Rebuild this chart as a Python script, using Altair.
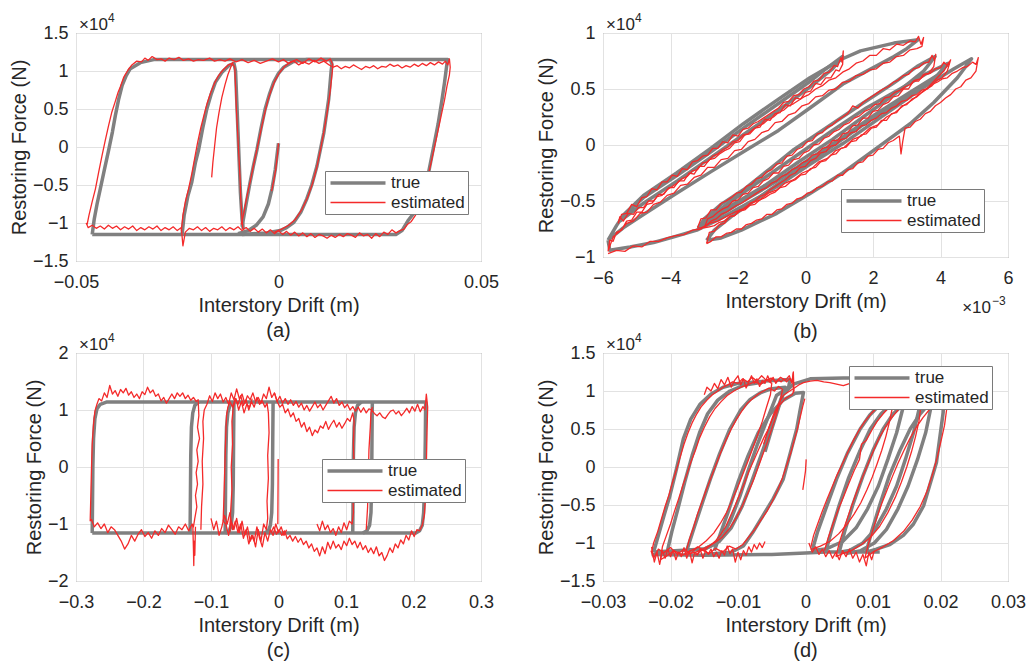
import altair as alt
import pandas as pd

FONT = "Liberation Sans"
TXT = "#262626"
GRAY = "#808080"
RED = "#f42a2a"
FRAME = "#7a7a7a"
SERIES = ["true", "estimated"]

# ---------------- panel (a) ----------------
A_TRUE = [
    [(-0.0460,-1.15),(-0.0455,-0.95),(-0.0448,-0.75),(-0.0440,-0.55),(-0.0430,-0.30),(-0.0419,-0.03),(-0.0410,0.20),(-0.0403,0.41),(-0.0395,0.62),(-0.0386,0.81),(-0.0376,0.94),(-0.0366,1.03),(-0.0341,1.11),(-0.0308,1.15),(0.0418,1.15),(0.0416,1.10),(0.0410,0.85),(0.0404,0.63),(0.0394,0.30),(0.0383,0.00),(0.0370,-0.35),(0.0358,-0.64),(0.0340,-0.83),(0.0321,-0.96),(0.0305,-1.10),(0.0290,-1.15),(-0.0460,-1.15)],
    [(-0.0238,-1.15),(-0.0233,-0.90),(-0.0224,-0.65),(-0.0214,-0.46),(-0.0205,-0.20),(-0.0197,-0.03),(-0.0187,0.25),(-0.0177,0.50),(-0.0166,0.70),(-0.0156,0.85),(-0.0140,0.98),(-0.0123,1.07),(-0.0110,1.10),(-0.0106,1.00),(-0.0103,0.60),(-0.0100,0.20),(-0.0097,-0.20),(-0.0094,-0.60),(-0.0090,-0.95),(-0.0087,-1.08)],
    [(-0.0090,-1.05),(-0.0080,-0.75),(-0.0070,-0.46),(-0.0062,-0.25),(-0.0053,-0.03),(-0.0043,0.25),(-0.0033,0.50),(-0.0022,0.70),(-0.0012,0.85),(0.0000,0.97),(0.0013,1.05),(0.0035,1.12),(0.0070,1.15),(0.0128,1.15),(0.0132,1.09),(0.0130,1.00),(0.0124,0.63),(0.0112,0.19),(0.0095,-0.25),(0.0082,-0.50),(0.0070,-0.68),(0.0055,-0.86),(0.0038,-0.99),(0.0020,-1.06),(0.0004,-1.10),(-0.0030,-1.13),(-0.0090,-1.15)],
    [(0.0000,0.05),(-0.0008,-0.30),(-0.0016,-0.55),(-0.0025,-0.75),(-0.0038,-0.92),(-0.0055,-1.03),(-0.0075,-1.10),(-0.0100,-1.14)],
]
A_EST = [
    [(-0.0473,-1.03),(-0.0468,-0.90),(-0.0460,-0.72),(-0.0452,-0.55),(-0.0444,-0.33),(-0.0436,-0.12),(-0.0428,0.08),(-0.0420,0.27),(-0.0412,0.45),(-0.0403,0.60),(-0.0396,0.72),(-0.0390,0.80),(-0.0382,0.92),(-0.0372,1.01),(-0.0362,1.08),(-0.0350,1.13),(-0.0338,1.12),(-0.0330,1.17),(-0.0322,1.14),(-0.0312,1.19),(-0.0300,1.15),(-0.0290,1.16),(-0.0280,1.13),(-0.0270,1.17),(-0.0258,1.15),(-0.0246,1.18),(-0.0235,1.14),(-0.0222,1.16),(-0.0210,1.13),(-0.0198,1.15),(-0.0185,1.14),(-0.0170,1.17),(-0.0158,1.13),(-0.0145,1.15),(-0.0132,1.13),(-0.0120,1.16),(-0.0105,1.12),(-0.0090,1.15),(-0.0075,1.11),(-0.0060,1.14),(-0.0045,1.10),(-0.0030,1.13),(-0.0015,1.16),(0.0000,1.12),(0.0012,1.15),(0.0025,1.10),(0.0038,1.13),(0.0050,1.08),(0.0062,1.12),(0.0075,1.09),(0.0088,1.14),(0.0100,1.10),(0.0112,1.13),(0.0125,1.08),(0.0135,1.05),(0.0145,1.07),(0.0155,1.03),(0.0165,1.06),(0.0175,1.04),(0.0185,1.08),(0.0195,1.05),(0.0205,1.02),(0.0215,1.06),(0.0225,1.04),(0.0235,1.07),(0.0245,1.03),(0.0255,1.06),(0.0265,1.05),(0.0275,1.09),(0.0285,1.06),(0.0295,1.08),(0.0305,1.04),(0.0315,1.07),(0.0325,1.05),(0.0335,1.09),(0.0345,1.06),(0.0355,1.10),(0.0365,1.07),(0.0375,1.11),(0.0385,1.08),(0.0395,1.12),(0.0405,1.09),(0.0412,1.13),(0.0418,1.08),(0.0422,1.16),(0.0424,1.05),(0.0422,0.95),(0.0416,0.80),(0.0410,0.62),(0.0402,0.42),(0.0394,0.22),(0.0386,0.02),(0.0377,-0.20),(0.0368,-0.42),(0.0358,-0.62),(0.0348,-0.78),(0.0338,-0.90),(0.0328,-0.98),(0.0318,-1.02),(0.0310,-1.08),(0.0300,-1.10),
     (0.0290,-1.13),(0.0280,-1.09),(0.0270,-1.15),(0.0260,-1.12),(0.0250,-1.18),(0.0240,-1.14),(0.0230,-1.20),(0.0220,-1.15),(0.0210,-1.17),(0.0200,-1.13),(0.0190,-1.19),(0.0180,-1.16),(0.0170,-1.14),(0.0160,-1.18),(0.0150,-1.15),(0.0140,-1.19),(0.0130,-1.16),(0.0120,-1.20),(0.0110,-1.17),(0.0100,-1.15),(0.0090,-1.19),(0.0080,-1.14),(0.0070,-1.18),(0.0060,-1.13),(0.0050,-1.17),(0.0040,-1.12),(0.0030,-1.16),(0.0020,-1.11),(0.0010,-1.15),(0.0000,-1.10),(-0.0010,-1.14),(-0.0020,-1.09),(-0.0030,-1.13),(-0.0040,-1.08),(-0.0050,-1.12),(-0.0060,-1.07),(-0.0070,-1.11),(-0.0080,-1.06),(-0.0090,-1.10),(-0.0100,-1.05),(-0.0110,-1.09),(-0.0120,-1.06),(-0.0130,-1.10),(-0.0140,-1.05),(-0.0150,-1.09),(-0.0160,-1.07),(-0.0170,-1.11),(-0.0180,-1.06),(-0.0190,-1.10),(-0.0200,-1.05),(-0.0210,-1.09),(-0.0220,-1.07),(-0.0230,-1.12),(-0.0236,-1.30),(-0.0240,-1.06),(-0.0250,-1.10),(-0.0260,-1.05),(-0.0270,-1.09),(-0.0280,-1.06),(-0.0290,-1.10),(-0.0300,-1.04),(-0.0310,-1.08),(-0.0320,-1.05),(-0.0330,-1.09),(-0.0340,-1.06),(-0.0350,-1.10),(-0.0360,-1.04),(-0.0370,-1.08),(-0.0380,-1.05),(-0.0390,-1.09),(-0.0400,-1.04),(-0.0410,-1.07),(-0.0420,-1.03),(-0.0430,-1.08),(-0.0440,-1.04),(-0.0450,-1.07),(-0.0460,-1.03),(-0.0470,-1.06),(-0.0475,-1.00)],
    [(-0.0240,-1.10),(-0.0236,-0.90),(-0.0230,-0.72),(-0.0222,-0.55),(-0.0214,-0.35),(-0.0207,-0.15),(-0.0200,0.05),(-0.0192,0.25),(-0.0184,0.42),(-0.0176,0.58),(-0.0167,0.72),(-0.0158,0.84),(-0.0148,0.94),(-0.0136,1.02),(-0.0124,1.08),(-0.0114,1.10),(-0.0108,1.05),(-0.0106,0.80),(-0.0104,0.50),(-0.0101,0.20),(-0.0098,-0.10),(-0.0095,-0.40),(-0.0093,-0.70),(-0.0090,-0.95),(-0.0088,-1.08)],
    [(-0.0165,-0.40),(-0.0162,-0.20),(-0.0158,0.00),(-0.0153,0.25),(-0.0147,0.45),(-0.0140,0.65),(-0.0132,0.82),(-0.0125,0.95),(-0.0118,1.05),(-0.0112,1.12)],
    [(-0.0092,-1.02),(-0.0085,-0.85),(-0.0078,-0.65),(-0.0070,-0.46),(-0.0062,-0.25),(-0.0054,-0.05),(-0.0045,0.18),(-0.0036,0.40),(-0.0027,0.60),(-0.0018,0.75),(-0.0008,0.88),(0.0003,0.98),(0.0015,1.06),(0.0030,1.12),(0.0045,1.15),(0.0060,1.10),(0.0075,1.16),(0.0090,1.12),(0.0105,1.17),(0.0118,1.13),(0.0128,1.16),(0.0134,1.08),(0.0133,1.00),(0.0128,0.75),(0.0120,0.45),(0.0112,0.20),(0.0103,-0.05),(0.0094,-0.28),(0.0084,-0.48),(0.0072,-0.66),(0.0058,-0.82),(0.0042,-0.95),(0.0025,-1.03),(0.0008,-1.08),(-0.0010,-1.12)],
    [(0.0000,0.05),(-0.0003,-0.12),(-0.0007,-0.30),(-0.0012,-0.45),(-0.0017,-0.58)],
]

# ---------------- panel (b) (x in 1e-3) ----------------
B_TRUE = [
    [(-5.85,-0.85),(-5.6,-0.72),(-5.38,-0.62),(-4.8,-0.45),(-3.82,-0.25),(-2.81,-0.03),(-1.84,0.19),(-0.8,0.41),(0.13,0.6),(1.1,0.77),(1.63,0.84),(2.62,0.91),(3.34,0.94),(3.0,0.86),(2.62,0.79),(1.14,0.55),(0.13,0.33),(-0.8,0.13),(-1.84,-0.06),(-2.81,-0.24),(-3.82,-0.43),(-4.8,-0.62),(-5.4,-0.74),(-5.85,-0.85)],
    [(-5.5,-0.68),(-5.3,-0.6),(-4.8,-0.47),(-3.8,-0.27),(-2.8,-0.06),(-1.8,0.16),(-0.8,0.37),(0.1,0.56),(0.6,0.68),(1.1,0.79),(0.8,0.68),(0.1,0.51),(-0.8,0.31),(-1.8,0.1),(-2.8,-0.11),(-3.8,-0.32),(-4.8,-0.52),(-5.5,-0.68)],
    [(-3.18,-0.74),(-3.0,-0.66),(-2.5,-0.53),(-1.84,-0.4),(-1.0,-0.2),(-0.34,-0.04),(0.5,0.13),(1.63,0.36),(2.6,0.55),(3.3,0.7),(3.84,0.79),(3.5,0.66),(2.8,0.49),(1.8,0.27),(0.8,0.05),(-0.2,-0.15),(-1.2,-0.36),(-2.2,-0.54),(-2.8,-0.65),(-3.18,-0.74)],
    [(-3.0,-0.72),(-2.8,-0.64),(-2.2,-0.5),(-1.2,-0.29),(-0.2,-0.08),(0.8,0.13),(1.8,0.33),(2.8,0.5),(3.6,0.64),(4.23,0.73),(3.9,0.62),(3.1,0.47),(2.1,0.28),(1.1,0.07),(0.1,-0.13),(-0.9,-0.33),(-1.9,-0.51),(-2.6,-0.64),(-3.0,-0.72)],
    [(-5.85,-0.85),(-5.8,-0.94),(-5.2,-0.91),(-4.5,-0.87),(-3.9,-0.82),(-3.22,-0.76),(-2.6,-0.67),(-2.0,-0.57),(-1.4,-0.47),(-0.85,-0.37),(0.1,-0.18),(1.12,0.015),(2.1,0.22),(3.1,0.43),(3.9,0.62),(4.23,0.73)],
    [(-2.93,-0.85),(-2.7,-0.76),(-2.2,-0.64),(-1.2,-0.43),(-0.2,-0.22),(0.8,-0.01),(1.8,0.2),(2.8,0.39),(3.8,0.57),(4.4,0.68),(4.92,0.77),(4.5,0.6),(3.8,0.38),(3.1,0.19),(2.1,-0.03),(1.1,-0.25),(0.1,-0.44),(-0.85,-0.61),(-1.9,-0.76),(-2.5,-0.83),(-2.93,-0.85)],
]
B_EST = [
    [(-5.55,-0.7),(-5.45,-0.62),(-5.3,-0.61),(-5.15,-0.53),(-5.0,-0.55),(-4.85,-0.47),(-4.7,-0.46),(-4.55,-0.39),(-4.4,-0.4),(-4.25,-0.33),(-4.1,-0.33),(-3.95,-0.27),(-3.8,-0.28),(-3.65,-0.21),(-3.5,-0.22),(-3.35,-0.15),(-3.2,-0.14),(-3.05,-0.1),(-2.9,-0.09),(-2.75,-0.03),(-2.6,-0.03),(-2.45,0.03),(-2.3,0.02),(-2.15,0.09),(-2.0,0.08),(-1.85,0.14),(-1.7,0.15),(-1.55,0.19),(-1.4,0.21),(-1.25,0.24),(-1.1,0.27),(-0.95,0.3),(-0.8,0.33),(-0.65,0.38),(-0.5,0.39),(-0.35,0.44),(-0.2,0.45),(-0.05,0.5),(0.1,0.52),(0.25,0.57),(0.4,0.58),(0.55,0.64),(0.7,0.65),(0.85,0.71),(0.95,0.7),(1.05,0.78),(1.08,0.74),(1.12,0.84),
     (1.1,0.72),(1.0,0.66),(0.9,0.67),(0.75,0.6),(0.6,0.6),(0.45,0.54),(0.3,0.55),(0.15,0.48),(0.0,0.47),(-0.15,0.41),(-0.3,0.42),(-0.45,0.35),(-0.6,0.36),(-0.75,0.29),(-0.9,0.28),(-1.05,0.22),(-1.2,0.23),(-1.35,0.16),(-1.5,0.15),(-1.65,0.1),(-1.8,0.09),(-1.95,0.03),(-2.1,0.02),(-2.25,-0.03),(-2.4,-0.05),(-2.55,-0.08),(-2.7,-0.12),(-2.85,-0.13),(-3.0,-0.19),(-3.15,-0.19),(-3.3,-0.26),(-3.45,-0.25),(-3.6,-0.32),(-3.75,-0.32),(-3.9,-0.38),(-4.05,-0.38),(-4.2,-0.44),(-4.35,-0.44),(-4.5,-0.5),(-4.65,-0.5),(-4.8,-0.56),(-4.95,-0.56),(-5.1,-0.62),(-5.25,-0.61),(-5.4,-0.68),(-5.5,-0.64),(-5.55,-0.7)],
    [(-5.85,-0.95),(-5.8,-0.85),(-5.7,-0.86),(-5.6,-0.78),(-5.45,-0.76),(-5.3,-0.68),(-5.15,-0.67),(-5.0,-0.6),(-4.85,-0.6),(-4.7,-0.53),(-4.55,-0.52),(-4.4,-0.46),(-4.25,-0.45),(-4.1,-0.4),(-3.95,-0.37),(-3.8,-0.34),(-3.65,-0.3),(-3.5,-0.28),(-3.35,-0.23),(-3.2,-0.22),(-3.05,-0.16),(-2.9,-0.15),(-2.75,-0.1),(-2.6,-0.08),(-2.45,-0.04),(-2.3,-0.02),(-2.15,0.03),(-2.0,0.04),(-1.85,0.09),(-1.7,0.1),(-1.55,0.14),(-1.4,0.17),(-1.25,0.19),(-1.1,0.23),(-0.95,0.25),(-0.8,0.29),(-0.65,0.31),(-0.5,0.35),(-0.35,0.37),(-0.2,0.4),(-0.05,0.43),(0.1,0.45),(0.3,0.5),(0.5,0.53),(0.7,0.58),(0.9,0.6),(1.1,0.65),(1.3,0.68),(1.5,0.73),(1.7,0.75),(1.9,0.8),(2.1,0.8),(2.3,0.86),(2.5,0.85),(2.7,0.9),(2.9,0.89),(3.1,0.93),(3.25,0.92),(3.35,0.97),(3.42,0.9),(3.5,0.96),(3.45,0.88),
     (3.3,0.86),(3.1,0.85),(2.9,0.8),(2.7,0.79),(2.5,0.74),(2.3,0.73),(2.1,0.68),(1.9,0.67),(1.7,0.63),(1.5,0.62),(1.3,0.57),(1.1,0.56),(0.9,0.5),(0.7,0.49),(0.5,0.44),(0.3,0.43),(0.1,0.37),(-0.1,0.35),(-0.3,0.29),(-0.5,0.27),(-0.7,0.21),(-0.9,0.2),(-1.1,0.13),(-1.3,0.11),(-1.5,0.05),(-1.7,0.03),(-1.9,-0.04),(-2.1,-0.05),(-2.3,-0.12),(-2.5,-0.13),(-2.7,-0.2),(-2.9,-0.2),(-3.1,-0.27),(-3.3,-0.29),(-3.5,-0.35),(-3.7,-0.36),(-3.9,-0.43),(-4.1,-0.45),(-4.3,-0.51),(-4.5,-0.53),(-4.7,-0.6),(-4.9,-0.61),(-5.1,-0.68),(-5.3,-0.7),(-5.5,-0.77),(-5.7,-0.82),(-5.85,-0.95)],
    [(-3.2,-0.74),(-3.1,-0.66),(-2.95,-0.65),(-2.8,-0.58),(-2.65,-0.58),(-2.5,-0.52),(-2.35,-0.5),(-2.2,-0.47),(-2.05,-0.43),(-1.9,-0.42),(-1.75,-0.37),(-1.6,-0.35),(-1.45,-0.3),(-1.3,-0.29),(-1.15,-0.24),(-1.0,-0.22),(-0.85,-0.17),(-0.7,-0.16),(-0.55,-0.1),(-0.4,-0.09),(-0.25,-0.04),(-0.1,-0.02),(0.05,0.03),(0.2,0.04),(0.35,0.1),(0.5,0.11),(0.65,0.16),(0.8,0.18),(0.95,0.22),(1.1,0.25),(1.25,0.28),(1.4,0.35),(1.55,0.33),(1.7,0.38),(1.85,0.41),(2.0,0.44),(2.15,0.47),(2.3,0.5),(2.45,0.52),(2.6,0.56),(2.75,0.58),(2.9,0.62),(3.05,0.63),(3.2,0.68),(3.35,0.69),(3.5,0.73),(3.65,0.74),(3.75,0.8),(3.82,0.76),(3.86,0.81),
     (3.8,0.7),(3.65,0.64),(3.5,0.63),(3.35,0.57),(3.2,0.57),(3.05,0.5),(2.9,0.5),(2.75,0.44),(2.6,0.43),(2.45,0.38),(2.3,0.36),(2.15,0.31),(2.0,0.3),(1.85,0.24),(1.7,0.24),(1.55,0.18),(1.4,0.17),(1.25,0.11),(1.1,0.1),(0.95,0.04),(0.8,0.04),(0.65,-0.02),(0.5,-0.03),(0.35,-0.08),(0.2,-0.09),(0.05,-0.14),(-0.1,-0.16),(-0.25,-0.2),(-0.4,-0.22),(-0.55,-0.26),(-0.7,-0.28),(-0.85,-0.32),(-1.0,-0.34),(-1.15,-0.38),(-1.3,-0.4),(-1.45,-0.43),(-1.6,-0.46),(-1.75,-0.49),(-1.9,-0.52),(-2.05,-0.54),(-2.2,-0.57),(-2.35,-0.6),(-2.5,-0.62),(-2.65,-0.66),(-2.8,-0.68),(-2.95,-0.72),(-3.1,-0.74),(-3.2,-0.74)],
    [(-3.0,-0.74),(-2.9,-0.66),(-2.75,-0.64),(-2.6,-0.6),(-2.45,-0.57),(-2.3,-0.55),(-2.15,-0.5),(-2.0,-0.49),(-1.85,-0.44),(-1.7,-0.43),(-1.55,-0.38),(-1.4,-0.37),(-1.25,-0.32),(-1.1,-0.3),(-0.95,-0.25),(-0.8,-0.25),(-0.65,-0.19),(-0.5,-0.18),(-0.35,-0.13),(-0.2,-0.12),(-0.05,-0.07),(0.1,-0.05),(0.25,0.0),(0.4,0.01),(0.55,0.06),(0.7,0.08),(0.85,0.12),(1.0,0.14),(1.15,0.18),(1.3,0.2),(1.45,0.24),(1.6,0.26),(1.75,0.3),(1.9,0.32),(2.05,0.36),(2.2,0.37),(2.35,0.42),(2.5,0.43),(2.65,0.47),(2.8,0.49),(2.95,0.52),(3.1,0.54),(3.25,0.58),(3.4,0.59),(3.55,0.63),(3.7,0.64),(3.85,0.68),(4.0,0.69),(4.1,0.74),(4.2,0.71),(4.3,0.76),
     (4.2,0.66),(4.05,0.6),(3.9,0.58),(3.75,0.53),(3.6,0.5),(3.45,0.47),(3.3,0.43),(3.15,0.41),(3.0,0.36),(2.85,0.35),(2.7,0.29),(2.55,0.28),(2.4,0.22),(2.25,0.22),(2.1,0.16),(1.95,0.15),(1.8,0.1),(1.65,0.09),(1.5,0.04),(1.35,0.03),(1.2,-0.02),(1.05,-0.03),(0.9,-0.08),(0.75,-0.09),(0.6,-0.14),(0.45,-0.15),(0.3,-0.2),(0.15,-0.21),(0.0,-0.26),(-0.15,-0.27),(-0.3,-0.31),(-0.45,-0.33),(-0.6,-0.37),(-0.75,-0.38),(-0.9,-0.42),(-1.05,-0.44),(-1.2,-0.47),(-1.35,-0.49),(-1.5,-0.53),(-1.65,-0.54),(-1.8,-0.58),(-1.95,-0.59),(-2.1,-0.63),(-2.25,-0.64),(-2.4,-0.68),(-2.55,-0.69),(-2.7,-0.72),(-2.85,-0.73),(-3.0,-0.74)],
    [(-2.93,-0.88),(-2.85,-0.78),(-2.7,-0.77),(-2.55,-0.71),(-2.4,-0.7),(-2.25,-0.64),(-2.1,-0.63),(-1.95,-0.58),(-1.8,-0.57),(-1.65,-0.52),(-1.5,-0.5),(-1.35,-0.46),(-1.2,-0.44),(-1.05,-0.4),(-0.9,-0.37),(-0.75,-0.34),(-0.6,-0.31),(-0.45,-0.27),(-0.3,-0.25),(-0.15,-0.2),(0.0,-0.19),(0.15,-0.14),(0.3,-0.12),(0.45,-0.07),(0.6,-0.06),(0.75,-0.01),(0.9,0.0),(1.05,0.05),(1.2,0.06),(1.35,0.11),(1.5,0.12),(1.65,0.17),(1.8,0.18),(1.95,0.22),(2.1,0.24),(2.25,0.28),(2.4,0.29),(2.55,0.33),(2.7,0.35),(2.85,0.39),(3.0,0.4),(3.15,0.44),(3.3,0.45),(3.45,0.49),(3.6,0.5),(3.75,0.54),(3.9,0.56),(4.05,0.59),(4.2,0.6),(4.35,0.64),(4.5,0.66),(4.65,0.69),(4.8,0.7),(4.95,0.74),(5.05,0.72),(5.12,0.78),
     (5.05,0.66),(4.9,0.6),(4.75,0.58),(4.6,0.52),(4.45,0.5),(4.3,0.45),(4.15,0.42),(4.0,0.38),(3.85,0.35),(3.7,0.3),(3.55,0.28),(3.4,0.23),(3.25,0.21),(3.1,0.16),(2.95,0.15),(2.88,0.03),(2.83,-0.08),(2.78,0.08),(2.6,0.04),(2.45,0.02),(2.3,-0.03),(2.15,-0.04),(2.0,-0.09),(1.85,-0.1),(1.7,-0.15),(1.55,-0.16),(1.4,-0.21),(1.25,-0.22),(1.1,-0.27),(0.95,-0.27),(0.8,-0.32),(0.65,-0.33),(0.5,-0.37),(0.35,-0.38),(0.2,-0.42),(0.05,-0.43),(-0.1,-0.47),(-0.25,-0.48),(-0.4,-0.52),(-0.55,-0.53),(-0.7,-0.57),(-0.85,-0.58),(-1.0,-0.62),(-1.15,-0.62),(-1.3,-0.66),(-1.45,-0.67),(-1.6,-0.7),(-1.75,-0.71),(-1.9,-0.75),(-2.05,-0.75),(-2.2,-0.78),(-2.35,-0.79),(-2.5,-0.82),(-2.65,-0.82),(-2.8,-0.86),(-2.93,-0.88)],
    [(-5.85,-0.97),(-5.6,-0.94),(-5.35,-0.95),(-5.1,-0.9),(-4.85,-0.91),(-4.6,-0.86),(-4.35,-0.86),(-4.1,-0.83),(-3.85,-0.81),(-3.6,-0.8),(-3.35,-0.76),(-3.1,-0.75),(-2.85,-0.7),(-2.6,-0.68),(-2.35,-0.64),(-2.1,-0.6),(-1.85,-0.57),(-1.6,-0.52),(-1.35,-0.49),(-1.1,-0.43),(-0.85,-0.4),(-0.6,-0.34),(-0.35,-0.31),(-0.1,-0.25),(0.15,-0.22),(0.4,-0.15),(0.65,-0.12),(0.9,-0.05),(1.15,-0.02),(1.4,0.05),(1.65,0.08),(1.9,0.15),(2.15,0.18),(2.4,0.25),(2.65,0.29),(2.9,0.35),(3.15,0.4),(3.4,0.46),(3.65,0.52),(3.9,0.6),(4.1,0.66),(4.25,0.74)],
]

# ---------------- panel (c) ----------------
C_TRUE = [
    [(-0.276,-1.16),(-0.2755,-0.6),(-0.275,0.0),(-0.274,0.5),(-0.272,0.85),(-0.269,1.02),(-0.264,1.1),(-0.255,1.14),(0.218,1.14),(0.2175,0.5),(0.2165,-0.3),(0.215,-0.8),(0.213,-1.02),(0.209,-1.12),(0.203,-1.16),(-0.276,-1.16)],
    [(-0.131,-1.16),(-0.1305,-0.5),(-0.130,0.2),(-0.129,0.7),(-0.127,0.95),(-0.124,1.08),(-0.118,1.14)],
    [(-0.079,-1.16),(-0.0785,-0.5),(-0.078,0.2),(-0.077,0.7),(-0.075,0.95),(-0.072,1.08),(-0.066,1.14)],
    [(-0.066,1.14),(-0.0665,0.5),(-0.067,-0.3),(-0.068,-0.8),(-0.070,-1.02),(-0.073,-1.12),(-0.079,-1.16)],
    [(-0.008,1.14),(-0.0085,0.5),(-0.009,-0.3),(-0.010,-0.8),(-0.012,-1.02),(-0.015,-1.12),(-0.021,-1.16)],
    [(0.110,-1.16),(0.1105,-0.5),(0.111,0.2),(0.112,0.7),(0.114,0.95),(0.117,1.08),(0.123,1.14)],
    [(0.139,1.14),(0.1385,0.5),(0.138,-0.3),(0.137,-0.8),(0.135,-1.02),(0.131,-1.12),(0.125,-1.16)],
]
C_EST = [
    [(-0.279,-0.95),(-0.278,-0.5),(-0.277,0.0),(-0.276,0.4),(-0.274,0.75),(-0.272,0.98),(-0.269,1.1),(-0.266,1.2),(-0.262,1.16),(-0.258,1.3),(-0.254,1.22),(-0.250,1.43),(-0.246,1.28),(-0.242,1.34),(-0.238,1.24),(-0.234,1.36),(-0.230,1.3),(-0.226,1.38),(-0.222,1.26),(-0.218,1.32),(-0.214,1.22),(-0.210,1.28),(-0.206,1.2),(-0.202,1.32),(-0.198,1.27),(-0.194,1.4),(-0.190,1.3),(-0.186,1.35),(-0.182,1.24),(-0.178,1.28),(-0.174,1.16),(-0.170,1.22),(-0.166,1.12),(-0.162,1.2),(-0.158,1.28),(-0.154,1.2),(-0.150,1.3),(-0.146,1.24),(-0.142,1.3),(-0.138,1.2),(-0.134,1.26),(-0.130,1.17),(-0.126,1.22),(-0.122,1.15),(-0.119,1.18),
     (-0.118,0.9),(-0.120,0.7),(-0.117,0.5),(-0.121,0.3),(-0.119,0.1),(-0.122,-0.1),(-0.120,-0.3),(-0.123,-0.5),(-0.121,-0.7),(-0.124,-0.9),(-0.126,-1.05),
     (-0.128,-1.0),(-0.133,-1.12),(-0.138,-1.0),(-0.143,-1.1),(-0.148,-1.05),(-0.153,-1.18),(-0.158,-1.1),(-0.163,-1.02),(-0.168,-1.15),(-0.173,-1.08),(-0.178,-1.2),(-0.183,-1.12),(-0.188,-1.25),(-0.193,-1.15),(-0.198,-1.22),(-0.203,-1.1),(-0.208,-1.18),(-0.213,-1.3),(-0.218,-1.2),(-0.223,-1.35),(-0.228,-1.44),(-0.233,-1.3),(-0.238,-1.2),(-0.243,-1.1),(-0.248,-1.05),(-0.253,-1.15),(-0.258,-1.0),(-0.263,-1.08),(-0.268,-0.98),(-0.273,-1.05),(-0.277,-0.92),(-0.279,-0.95)],
    [(-0.115,-1.1),(-0.114,-0.7),(-0.112,-0.3),(-0.113,0.1),(-0.111,0.5),(-0.112,0.8),(-0.110,1.0),(-0.106,1.1),(-0.102,1.25),(-0.098,1.15),(-0.094,1.3),(-0.090,1.2),(-0.086,1.28),(-0.082,1.14),(-0.078,1.22),(-0.074,1.1),(-0.070,1.3),(-0.066,1.18),(-0.062,1.37),(-0.058,1.2),(-0.054,1.28),(-0.050,1.12),(-0.046,1.25),(-0.042,1.18),(-0.038,1.3),(-0.034,1.15),(-0.030,1.22),(-0.026,1.12),(-0.022,1.28),(-0.018,1.2),(-0.014,1.4),(-0.010,1.22),(-0.006,1.3),(-0.002,1.15),(0.002,1.24),(0.006,1.12),(0.010,1.2),(0.014,1.1),(0.018,1.18),(0.022,1.08),(0.026,1.15),(0.030,1.05),(0.034,1.12),(0.038,1.0),(0.042,1.08),(0.046,0.98),(0.050,1.06),(0.054,1.14),(0.058,1.04),(0.062,1.1),(0.066,1.0),(0.070,1.08),(0.074,1.16),(0.078,1.24),(0.082,1.12),(0.086,1.2),(0.090,1.08),(0.094,1.14),(0.098,1.04),(0.102,1.1),(0.106,1.0),(0.110,1.06),(0.114,0.98),(0.118,1.05),(0.122,0.96),(0.126,1.04),(0.130,0.95),(0.134,1.02),(0.138,1.0),(0.142,0.94),(0.146,0.9),(0.150,0.95),(0.154,0.88),(0.158,0.85),(0.162,0.92),(0.166,0.98),(0.170,1.0),(0.174,0.93),(0.178,0.98),(0.182,0.9),(0.186,0.96),(0.190,1.03),(0.194,0.95),(0.198,1.06),(0.202,0.98),(0.206,1.1),(0.210,0.97),(0.214,1.06),(0.217,1.0),(0.219,1.28),(0.221,1.05),(0.220,0.6),(0.219,0.0),(0.218,-0.5),(0.216,-0.85),(0.213,-1.02),(0.209,-1.12),
     (0.205,-1.1),(0.201,-1.22),(0.197,-1.12),(0.193,-1.28),(0.189,-1.2),(0.185,-1.35),(0.181,-1.28),(0.177,-1.42),(0.173,-1.35),(0.169,-1.5),(0.165,-1.42),(0.161,-1.55),(0.157,-1.64),(0.153,-1.5),(0.149,-1.56),(0.145,-1.4),(0.141,-1.52),(0.137,-1.42),(0.133,-1.5),(0.129,-1.38),(0.125,-1.45),(0.121,-1.32),(0.117,-1.42),(0.113,-1.3),(0.109,-1.36),(0.105,-1.25),(0.101,-1.38),(0.097,-1.3),(0.093,-1.45),(0.089,-1.36),(0.085,-1.42),(0.081,-1.3),(0.077,-1.44),(0.073,-1.32),(0.069,-1.52),(0.065,-1.4),(0.061,-1.56),(0.057,-1.42),(0.053,-1.48),(0.049,-1.35),(0.045,-1.42),(0.041,-1.3),(0.037,-1.36),(0.033,-1.25),(0.029,-1.32),(0.025,-1.22),(0.021,-1.3),(0.017,-1.2),(0.013,-1.26),(0.009,-1.12),(0.005,-1.2),(0.001,-1.1),(-0.003,-1.18),(-0.007,-1.05),(-0.011,-1.15)],
    [(-0.082,-0.95),(-0.081,-0.6),(-0.080,-0.2),(-0.079,0.2),(-0.078,0.6),(-0.077,0.9),(-0.075,1.05),(-0.072,1.15),(-0.068,1.05),(-0.064,1.2),(-0.060,1.1),(-0.056,1.25),(-0.052,1.08),(-0.048,1.18),(-0.044,1.0),(-0.040,1.15),(-0.036,1.05),(-0.032,1.22),(-0.028,1.1),(-0.024,1.16),(-0.020,1.05),(-0.017,1.12),(-0.015,0.95),(-0.014,0.6),(-0.016,0.2),(-0.015,-0.2),(-0.017,-0.6),(-0.016,-0.9),(-0.018,-1.1),(-0.022,-1.0),(-0.026,-1.3),(-0.030,-1.1),(-0.034,-1.4),(-0.038,-1.2),(-0.042,-1.3),(-0.046,-1.05),(-0.050,-1.2),(-0.054,-0.95),(-0.058,-1.15),(-0.062,-0.9),(-0.066,-1.1),(-0.070,-0.95),(-0.074,-1.2),(-0.078,-1.0),(-0.082,-0.95)],
    [(-0.072,-1.15),(-0.071,-0.8),(-0.069,-0.4),(-0.070,0.0),(-0.068,0.4),(-0.069,0.8),(-0.067,1.05),(-0.063,1.2),(-0.059,1.0),(-0.055,1.15),(-0.051,0.95),(-0.047,1.1),(-0.043,1.05),(-0.039,1.2)],
    [(-0.100,-0.9),(-0.096,-1.1),(-0.092,-0.95),(-0.088,-1.2),(-0.084,-1.05),(-0.080,-0.85),(-0.076,-1.0),(-0.072,-0.8),(-0.068,-1.1),(-0.064,-0.95),(-0.060,-1.15),(-0.056,-1.0),(-0.052,-1.25),(-0.048,-1.1),(-0.044,-1.35),(-0.040,-1.2),(-0.036,-1.3),(-0.032,-1.05),(-0.028,-1.25),(-0.024,-1.4),(-0.020,-1.15),(-0.016,-1.3),(-0.012,-1.1),(-0.008,-1.2),(-0.004,-1.0),(0.000,-1.15),(0.004,-1.05),(0.008,-1.2),(0.012,-1.1)],
    [(-0.006,1.3),(-0.002,1.15),(0.002,1.05),(0.006,1.1),(0.010,0.95),(0.014,1.02),(0.018,0.88),(0.022,0.95),(0.026,0.8),(0.030,0.85),(0.034,0.7),(0.038,0.78),(0.042,0.62),(0.046,0.7),(0.050,0.55),(0.054,0.65),(0.058,0.6),(0.062,0.72),(0.066,0.68),(0.070,0.8),(0.074,0.66),(0.078,0.75),(0.082,0.82),(0.086,0.7),(0.090,0.78),(0.094,0.68),(0.098,0.76),(0.102,0.85),(0.106,0.8),(0.110,0.95),(0.112,0.8),(0.111,0.4),(0.112,0.0),(0.110,-0.4),(0.111,-0.8),(0.109,-1.0),(0.105,-0.95),(0.101,-1.1),(0.097,-0.98),(0.093,-1.15),(0.089,-1.05),(0.085,-1.2),(0.081,-1.08),(0.077,-1.15),(0.073,-1.02),(0.069,-1.1),(0.065,-0.95),(0.061,-1.12),(0.057,-1.0)],
    [(0.130,-1.1),(0.132,-0.7),(0.133,-0.2),(0.134,0.3),(0.136,0.7),(0.137,0.95),(0.139,1.05)],
    [(-0.001,-1.0),(-0.0008,-0.6),(-0.0006,-0.2),(-0.0005,0.14)],
    [(-0.127,-1.0),(-0.126,-1.45),(-0.1255,-1.73),(-0.125,-1.3),(-0.124,-1.55),(-0.123,-1.05)],
]

# ---------------- panel (d) ----------------
D_TRUE = [
    [(-0.0225,-1.12),(-0.0218,-0.9),(-0.0210,-0.65),(-0.0201,-0.38),(-0.0191,-0.02),(-0.0181,0.37),(-0.0170,0.63),(-0.0156,0.83),(-0.0140,0.96),(-0.0122,1.05),(-0.0100,1.1),(-0.0060,1.13),(-0.0023,1.15),(-0.0025,1.05),(-0.0043,0.94),(-0.0057,0.62),(-0.0072,0.28),(-0.0085,-0.05),(-0.0097,-0.38),(-0.0110,-0.68),(-0.0122,-0.9),(-0.0135,-1.02),(-0.0150,-1.08),(-0.0225,-1.12)],
    [(-0.0205,-1.12),(-0.0198,-0.85),(-0.0189,-0.55),(-0.0179,-0.2),(-0.0168,0.15),(-0.0157,0.45),(-0.0145,0.7),(-0.0130,0.88),(-0.0112,1.0),(-0.0090,1.08),(-0.0060,1.12)],
    [(-0.0176,-1.1),(-0.0165,-0.8),(-0.0152,-0.45),(-0.0141,-0.16),(-0.0127,0.18),(-0.0112,0.5),(-0.0096,0.75),(-0.0082,0.89),(-0.0066,0.98),(-0.0050,1.03),(-0.0030,1.05),(-0.0040,0.8),(-0.0052,0.5),(-0.0066,0.15),(-0.0080,-0.2),(-0.0094,-0.52),(-0.0110,-0.8),(-0.0128,-0.98),(-0.0150,-1.08),(-0.0176,-1.1)],
    [(-0.0135,-1.1),(-0.0125,-0.85),(-0.0113,-0.55),(-0.0100,-0.2),(-0.0085,0.15),(-0.0070,0.45),(-0.0052,0.7),(-0.0033,0.88),(-0.0015,0.97),(-0.0003,0.98),(-0.0008,0.75),(-0.0013,0.5),(-0.0023,0.17),(-0.0033,-0.16),(-0.0048,-0.42),(-0.0063,-0.64),(-0.0078,-0.86),(-0.0092,-1.04),(-0.0110,-1.12),(-0.0150,-1.15)],
    [(-0.0060,0.2),(-0.0050,0.5),(-0.0040,0.78),(-0.0033,0.96),(-0.0018,1.09),(0.0007,1.16),(0.0056,1.17),(0.0100,1.17),(0.0140,1.15)],
    [(-0.0228,-1.15),(-0.0150,-1.16),(-0.0050,-1.15),(0.0000,-1.13),(0.0030,-1.12),(0.0110,-1.12)],
    [(0.0010,-1.1),(0.0018,-0.85),(0.0030,-0.55),(0.0046,-0.16),(0.0062,0.18),(0.0081,0.5),(0.0095,0.68),(0.0110,0.82),(0.0130,0.93),(0.0150,1.0),(0.0145,0.8),(0.0135,0.45),(0.0122,0.1),(0.0108,-0.25),(0.0092,-0.55),(0.0075,-0.8),(0.0055,-0.98),(0.0030,-1.08),(0.0010,-1.1)],
    [(0.0050,-1.12),(0.0058,-0.85),(0.0070,-0.5),(0.0085,-0.12),(0.0100,0.22),(0.0115,0.5),(0.0130,0.7),(0.0148,0.85),(0.0170,0.95),(0.0168,0.75),(0.0160,0.45),(0.0148,0.1),(0.0135,-0.25),(0.0120,-0.55),(0.0103,-0.82),(0.0085,-1.0),(0.0065,-1.1),(0.0050,-1.12)],
    [(0.0090,-1.12),(0.0098,-0.85),(0.0110,-0.5),(0.0124,-0.12),(0.0140,0.22),(0.0155,0.5),(0.0170,0.7),(0.0185,0.85),(0.0205,0.95),(0.0204,0.72),(0.0194,0.06),(0.0175,-0.51),(0.0160,-0.75),(0.0145,-0.9),(0.0125,-1.02),(0.0105,-1.08),(0.0090,-1.12)],
    [(0.0030,-1.12),(0.0038,-0.85),(0.0050,-0.5),(0.0064,-0.14),(0.0080,0.2),(0.0096,0.5),(0.0112,0.7),(0.0130,0.85),(0.0150,0.95),(0.0186,0.95),(0.0185,0.75),(0.0178,0.45),(0.0166,0.1),(0.0152,-0.25),(0.0137,-0.55),(0.0120,-0.82),(0.0102,-1.0),(0.0082,-1.1),(0.0060,-1.14)],
]
D_EST = [
    [(-0.0228,-1.12),(-0.0225,-1.0),(-0.0219,-0.85),(-0.0214,-0.7),(-0.0208,-0.52),(-0.0202,-0.36),(-0.0197,-0.2),(-0.0191,-0.03),(-0.0186,0.12),(-0.0180,0.3),(-0.0174,0.45),(-0.0168,0.58),(-0.0161,0.7),(-0.0154,0.8),(-0.0146,0.88),(-0.0138,0.95),(-0.0130,1.0),(-0.0122,1.05),(-0.0115,1.08),(-0.0108,1.12),(-0.0100,1.1),(-0.0093,1.16),(-0.0086,1.12),(-0.0079,1.18),(-0.0072,1.13),(-0.0065,1.2),(-0.0058,1.14),(-0.0051,1.17),(-0.0044,1.12),(-0.0037,1.18),(-0.0030,1.14),(-0.0024,1.2),(-0.0020,1.1),(-0.0018,1.24),(-0.0017,1.0),
     (-0.0020,0.95),(-0.0030,0.9),(-0.0040,0.8),(-0.0048,0.65),(-0.0055,0.5),(-0.0062,0.38),(-0.0070,0.22),(-0.0077,0.08),(-0.0084,-0.06),(-0.0090,-0.2),(-0.0097,-0.35),(-0.0104,-0.5),(-0.0111,-0.64),(-0.0118,-0.78),(-0.0125,-0.88),(-0.0133,-0.97),(-0.0142,-1.04),(-0.0150,-1.1),(-0.0160,-1.05),(-0.0170,-1.14),(-0.0180,-1.08),(-0.0190,-1.15),(-0.0200,-1.06),(-0.0210,-1.13),(-0.0218,-1.08),(-0.0225,-1.2),(-0.0229,-1.1)],
    [(-0.0215,-1.22),(-0.0212,-1.05),(-0.0206,-0.9),(-0.0200,-0.75),(-0.0194,-0.58),(-0.0188,-0.42),(-0.0182,-0.25),(-0.0176,-0.1),(-0.0170,0.06),(-0.0163,0.22),(-0.0157,0.38),(-0.0150,0.52),(-0.0142,0.66),(-0.0134,0.77),(-0.0125,0.86),(-0.0116,0.94),(-0.0106,1.0),(-0.0096,1.05),(-0.0086,1.08),(-0.0076,1.12),(-0.0066,1.09),(-0.0058,1.15),(-0.0050,1.1),
     (-0.0052,0.95),(-0.0058,0.78),(-0.0064,0.6),(-0.0071,0.42),(-0.0078,0.25),(-0.0086,0.06),(-0.0093,-0.1),(-0.0101,-0.28),(-0.0109,-0.44),(-0.0117,-0.6),(-0.0126,-0.74),(-0.0136,-0.87),(-0.0147,-0.97),(-0.0158,-1.05),(-0.0170,-1.1),(-0.0182,-1.16),(-0.0195,-1.1),(-0.0207,-1.18),(-0.0215,-1.22)],
    [(-0.0178,-1.15),(-0.0172,-0.95),(-0.0166,-0.8),(-0.0160,-0.62),(-0.0153,-0.45),(-0.0147,-0.3),(-0.0140,-0.14),(-0.0133,0.02),(-0.0126,0.18),(-0.0118,0.35),(-0.0110,0.5),(-0.0102,0.63),(-0.0094,0.74),(-0.0086,0.84),(-0.0078,0.9),(-0.0070,0.96),(-0.0062,1.0),(-0.0054,1.04),(-0.0046,1.0),(-0.0040,1.06),(-0.0034,1.02),
     (-0.0038,0.85),(-0.0044,0.66),(-0.0050,0.5),(-0.0056,0.34),(-0.0063,0.17),(-0.0070,0.0),(-0.0077,-0.17),(-0.0085,-0.34),(-0.0093,-0.5),(-0.0102,-0.66),(-0.0112,-0.8),(-0.0123,-0.92),(-0.0135,-1.0),(-0.0148,-1.06),(-0.0162,-1.12),(-0.0178,-1.15)],
    [(-0.0001,0.9),(-0.0004,0.8),(-0.0008,0.65),(-0.0012,0.5),(-0.0017,0.34),(-0.0022,0.18),(-0.0028,0.02),(-0.0034,-0.14),(-0.0041,-0.3),(-0.0049,-0.45),(-0.0057,-0.58),(-0.0066,-0.7),(-0.0075,-0.82),(-0.0084,-0.92),(-0.0093,-1.02),(-0.0103,-1.08),(-0.0113,-1.04),(-0.0123,-1.12),(-0.0133,-1.07),(-0.0143,-1.14),(-0.0153,-1.09),(-0.0163,-1.16)],
    [(0.0001,0.1),(0.0000,-0.05),(-0.0002,-0.18),(-0.0004,-0.3)],
    [(-0.0228,-1.05),(-0.0224,-1.25),(-0.0220,-1.12),(-0.0216,-1.28),(-0.0212,-1.1),(-0.0208,-1.2),(-0.0204,-1.08),(-0.0200,-1.18),(-0.0196,-1.1),(-0.0192,-1.22),(-0.0188,-1.12),(-0.0184,-1.18),(-0.0180,-1.06),(-0.0176,-1.2),(-0.0172,-1.1),(-0.0168,-1.26),(-0.0164,-1.12),(-0.0160,-1.16),(-0.0156,-1.08),(-0.0152,-1.2),(-0.0148,-1.1),(-0.0144,-1.15),(-0.0140,-1.08),(-0.0136,-1.18),(-0.0132,-1.12),(-0.0128,-1.2),(-0.0124,-1.1),(-0.0120,-1.16),(-0.0116,-1.04),(-0.0112,-1.14),(-0.0108,-1.08),(-0.0104,-1.25),(-0.0100,-1.12),(-0.0096,-1.22),(-0.0092,-1.1),(-0.0088,-1.16),(-0.0084,-1.05),(-0.0080,-1.12),(-0.0076,-1.02),(-0.0072,-1.08),(-0.0068,-1.0),(-0.0064,-1.06),(-0.0060,-0.98)],
    [(-0.0150,0.95),(-0.0146,1.05),(-0.0140,1.0),(-0.0135,1.1),(-0.0130,1.03),(-0.0125,1.15),(-0.0120,1.08),(-0.0115,1.18),(-0.0110,1.05),(-0.0105,1.14),(-0.0100,1.2),(-0.0096,1.08),(-0.0092,1.16),(-0.0088,1.04),(-0.0084,1.12),(-0.0080,1.2),(-0.0076,1.1),(-0.0072,1.16),(-0.0068,1.06),(-0.0064,1.14),(-0.0060,1.1),(-0.0056,1.2),(-0.0052,1.12),(-0.0048,1.18),(-0.0044,1.1),(-0.0040,1.15),(-0.0036,1.12),(-0.0032,1.16),(-0.0028,1.12),(-0.0024,1.16),(-0.0020,1.12),(-0.0018,1.25),(-0.0018,0.98)],
    [(-0.0062,0.3),(-0.0055,0.5),(-0.0047,0.7),(-0.0040,0.83),(-0.0033,0.94),(-0.0025,0.99),(-0.0018,1.03),(-0.0010,1.08),(-0.0003,1.11),(0.0007,1.13),(0.0017,1.14),(0.0027,1.12),(0.0036,1.11),(0.0046,1.09),(0.0056,1.07),(0.0066,1.1)],
    [(0.0008,-1.05),(0.0012,-0.9),(0.0018,-0.75),(0.0025,-0.58),(0.0032,-0.42),(0.0040,-0.25),(0.0047,-0.1),(0.0055,0.05),(0.0063,0.2),(0.0071,0.35),(0.0079,0.48),(0.0088,0.6),(0.0097,0.7),(0.0107,0.79),(0.0118,0.86),(0.0130,0.92),
     (0.0128,0.75),(0.0124,0.58),(0.0119,0.4),(0.0113,0.22),(0.0106,0.04),(0.0099,-0.13),(0.0091,-0.3),(0.0082,-0.47),(0.0072,-0.62),(0.0061,-0.76),(0.0049,-0.88),(0.0036,-0.98),(0.0022,-1.04),(0.0010,-1.08)],
    [(0.0045,-1.18),(0.0050,-1.0),(0.0056,-0.83),(0.0063,-0.65),(0.0070,-0.47),(0.0077,-0.3),(0.0085,-0.12),(0.0093,0.05),(0.0101,0.22),(0.0109,0.38),(0.0118,0.52),(0.0127,0.64),(0.0137,0.75),(0.0148,0.84),(0.0160,0.92),(0.0172,0.98),
     (0.0171,0.8),(0.0168,0.6),(0.0163,0.4),(0.0157,0.2),(0.0150,0.0),(0.0142,-0.2),(0.0133,-0.4),(0.0122,-0.6),(0.0110,-0.78),(0.0097,-0.92),(0.0083,-1.02),(0.0068,-1.1),(0.0055,-1.14),(0.0045,-1.18)],
    [(0.0088,-1.2),(0.0093,-1.02),(0.0099,-0.85),(0.0106,-0.66),(0.0113,-0.48),(0.0121,-0.3),(0.0129,-0.12),(0.0137,0.05),(0.0146,0.22),(0.0155,0.38),(0.0164,0.52),(0.0174,0.65),(0.0184,0.76),(0.0195,0.86),(0.0207,0.95),
     (0.0209,0.75),(0.0206,0.55),(0.0201,0.35),(0.0195,0.12),(0.0188,-0.1),(0.0180,-0.32),(0.0170,-0.52),(0.0158,-0.7),(0.0145,-0.85),(0.0130,-0.97),(0.0115,-1.05),(0.0100,-1.12),(0.0088,-1.2)],
    [(0.0005,-1.0),(0.0010,-1.12),(0.0015,-1.05),(0.0020,-1.15),(0.0025,-1.08),(0.0030,-1.18),(0.0035,-1.1),(0.0040,-1.2),(0.0045,-1.12),(0.0050,-1.22),(0.0055,-1.1),(0.0060,-1.18),(0.0065,-1.08),(0.0070,-1.2),(0.0075,-1.12),(0.0080,-1.25),(0.0085,-1.15),(0.0090,-1.3),(0.0094,-1.12),(0.0098,-1.22),(0.0102,-1.1)],
    [(0.0028,-1.1),(0.0034,-0.92),(0.0041,-0.74),(0.0049,-0.55),(0.0056,-0.4),(0.0064,-0.22),(0.0072,-0.05),(0.0080,0.1),(0.0083,0.3),(0.0090,0.35),(0.0098,0.48),(0.0106,0.6),(0.0115,0.7),(0.0125,0.8),(0.0137,0.88),(0.0150,0.95)],
]


def frame(true_segs, est_segs):
    rows = []
    k = 0
    for s, segs in (("true", true_segs), ("estimated", est_segs)):
        for g, seg in enumerate(segs):
            for (x, y) in seg:
                rows.append({"x": x, "y": y, "s": s, "g": f"{s}{g}", "i": k})
                k += 1
    return pd.DataFrame(rows)


def legend(lx, ly):
    # custom horizontal line symbol: 55 px long while the entry stays compact
    return alt.Legend(title=None, orient="none", legendX=lx, legendY=ly,
                      symbolType="M-4,0H4", symbolSize=189, labelFont=FONT,
                      labelFontSize=17, labelColor=TXT, fillColor="white",
                      strokeColor=FRAME, padding=3, rowPadding=2,
                      symbolOffset=21, labelOffset=24)


def label_layer(text, x, y, size, align="left"):
    return alt.Chart(pd.DataFrame({"t": [text]})).mark_text(
        align=align, baseline="alphabetic", fontSize=size, font=FONT, color=TXT
    ).encode(text="t:N", x=alt.value(x), y=alt.value(y))


def panel(true_segs, est_segs, xdom, xvals, ydom, yvals, h, lx, ly, cap, xexp=False):
    df = frame(true_segs, est_segs)
    lg = legend(lx, ly)
    enc = dict(
        x=alt.X("x:Q", scale=alt.Scale(domain=xdom, nice=False, zero=False),
                axis=alt.Axis(values=xvals, format="~g", title="Interstory Drift (m)")),
        y=alt.Y("y:Q", scale=alt.Scale(domain=ydom, nice=False, zero=False),
                axis=alt.Axis(values=yvals, format="~g", title="Restoring Force (N)")),
        color=alt.Color("s:N", scale=alt.Scale(domain=SERIES, range=[GRAY, RED]), legend=lg),
        strokeWidth=alt.StrokeWidth("s:N", scale=alt.Scale(type="ordinal", domain=SERIES, range=[3.5, 1.3]), legend=lg),
        detail="g:N",
        order=alt.Order("i:Q"),
    )
    base = alt.Chart(df)
    gray = base.transform_filter(alt.datum.s == "true").mark_line(strokeJoin="round").encode(**enc)
    red = base.transform_filter(alt.datum.s == "estimated").mark_line(strokeJoin="round").encode(**enc)
    layers = [gray, red, label_layer("×10", 3, -3, 17), label_layer("4", 32, -11, 12)]
    if xexp:
        layers += [label_layer("×10", 388, h + 56, 17, "right"), label_layer("−3", 389, h + 48, 12)]
    return alt.layer(*layers).properties(
        width=405, height=h,
        title=alt.TitleParams(cap, orient="bottom", anchor="middle", fontSize=20,
                              fontWeight="normal", font=FONT, color=TXT, offset=6),
    )


pa = panel(A_TRUE, A_EST, [-0.05, 0.05], [-0.05, 0, 0.05], [-1.5, 1.5],
           [-1.5, -1, -0.5, 0, 0.5, 1, 1.5], 228, 249, 138, "(a)")
pb = panel(B_TRUE, B_EST, [-6, 6], [-6, -4, -2, 0, 2, 4, 6], [-1, 1],
           [-1, -0.5, 0, 0.5, 1], 224, 238, 156, "(b)", xexp=True)
pc = panel(C_TRUE, C_EST, [-0.3, 0.3], [-0.3, -0.2, -0.1, 0, 0.1, 0.2, 0.3], [-2, 2],
           [-2, -1, 0, 1, 2], 228, 246, 106, "(c)")
pdd = panel(D_TRUE, D_EST, [-0.03, 0.03], [-0.03, -0.02, -0.01, 0, 0.01, 0.02, 0.03], [-1.5, 1.5],
            [-1.5, -1, -0.5, 0, 0.5, 1, 1.5], 228, 246, 13, "(d)")

chart = alt.concat(pa, pb, pc, pdd, columns=2, spacing={"row": 92, "column": 122}).properties(
    bounds="flush", padding={"left": 0, "top": 3, "right": 0, "bottom": 0}
).resolve_scale(
    color="independent", strokeWidth="independent"
).resolve_legend(
    color="independent", strokeWidth="independent"
).configure_view(
    stroke=FRAME, strokeWidth=1
).configure_axis(
    labelFont=FONT, titleFont=FONT, labelFontSize=18, titleFontSize=20,
    titleFontWeight="normal", labelColor=TXT, titleColor=TXT, grid=True,
    gridColor="#e2e2e2", domain=False, ticks=False, tickSize=0,
    labelFlush=False, labelOverlap=False,
).configure_axisX(labelPadding=12, titlePadding=4).configure_axisY(labelPadding=8, titlePadding=3)

chart.save("out.html", embed_options={"renderer": "svg", "actions": False})
